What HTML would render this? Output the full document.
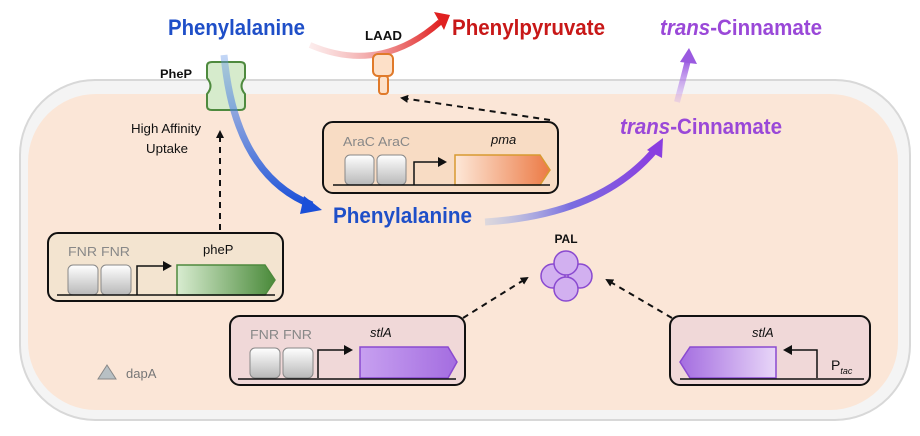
<!DOCTYPE html>
<html><head><meta charset="utf-8"><style>
html,body{margin:0;padding:0;background:#fff;}
svg{display:block;font-family:"Liberation Sans",sans-serif;}
</style></head><body>
<svg width="920" height="436" viewBox="0 0 920 436" xmlns="http://www.w3.org/2000/svg">
<defs>
<linearGradient id="gb" x1="0" y1="0" x2="0" y2="1"><stop offset="0" stop-color="#fff"/><stop offset="1" stop-color="#b8b8b8"/></linearGradient>
<linearGradient id="gg" x1="0" x2="1"><stop offset="0" stop-color="#d8ecd0"/><stop offset="1" stop-color="#4a8a3a"/></linearGradient>
<linearGradient id="gp" x1="0" x2="1"><stop offset="0" stop-color="#c7a0f0"/><stop offset="1" stop-color="#a46de0"/></linearGradient>
<linearGradient id="gp2" x1="1" x2="0"><stop offset="0" stop-color="#e8d6f8"/><stop offset="1" stop-color="#a46de0"/></linearGradient>
<linearGradient id="go" x1="0" x2="1"><stop offset="0" stop-color="#fde8d8"/><stop offset="1" stop-color="#ec7a45"/></linearGradient>
<linearGradient id="gpur" x1="0" x2="1"><stop offset="0" stop-color="#9ab8e8" stop-opacity="0.3"/><stop offset="0.5" stop-color="#7a6ee0"/><stop offset="1" stop-color="#8a3ee0"/></linearGradient>
<linearGradient id="gblue" x1="0" y1="0" x2="0" y2="1"><stop offset="0" stop-color="#6a9ae8" stop-opacity="0.4"/><stop offset="1" stop-color="#1a4fd8"/></linearGradient>
<linearGradient id="gred" x1="0" x2="1"><stop offset="0" stop-color="#f0a0a0" stop-opacity="0.2"/><stop offset="1" stop-color="#e02020"/></linearGradient>
<linearGradient id="gpu2" x1="0" y1="1" x2="0" y2="0"><stop offset="0" stop-color="#c8a0f0" stop-opacity="0.3"/><stop offset="1" stop-color="#9a5ae0"/></linearGradient>
<marker id="ad" markerWidth="8" markerHeight="8" refX="6" refY="4" orient="auto" markerUnits="userSpaceOnUse"><path d="M0,0 L8,4 L0,8 z" fill="#111"/></marker>
</defs>
<rect x="20" y="80" width="890" height="340" rx="75" fill="#f4f4f4" stroke="#d8d8d8" stroke-width="2"/>
<rect x="28" y="94" width="870" height="316" rx="68" fill="#fbe6d7"/>

<text x="168" y="35" font-size="22" font-weight="bold" fill="#1f4fc8" textLength="137" lengthAdjust="spacingAndGlyphs">Phenylalanine</text>
<text x="365" y="40" font-size="13" font-weight="bold" fill="#111" textLength="37" lengthAdjust="spacingAndGlyphs">LAAD</text>
<text x="452" y="35" font-size="22" font-weight="bold" fill="#c81818" textLength="153" lengthAdjust="spacingAndGlyphs">Phenylpyruvate</text>
<text x="660" y="35" font-size="22" font-weight="bold" fill="#9a48d8" textLength="162" lengthAdjust="spacingAndGlyphs"><tspan font-style="italic">trans</tspan>-Cinnamate</text>
<text x="160" y="78" font-size="12" font-weight="bold" fill="#111" textLength="32" lengthAdjust="spacingAndGlyphs">PheP</text>

<path d="M310,45 Q380,75 440,22" fill="none" stroke="url(#gred)" stroke-width="6"/>
<path d="M434,12 L450,15 L444,30 z" fill="#e02020"/>

<path d="M677,102 Q683,80 688,60" fill="none" stroke="url(#gpu2)" stroke-width="6"/>
<path d="M680,62 L689,48 L697,64 z" fill="#9a5ae0"/>

<path d="M207,66 Q207,62 212,62 L240,62 Q245,62 245,66 L245,78 Q238,86 245,94 L245,106 Q245,110 240,110 L212,110 Q207,110 207,106 L207,94 Q214,86 207,78 z" fill="#d6ebcc" stroke="#4e8a3e" stroke-width="2"/>
<path d="M224,55 Q235,175 312,205" fill="none" stroke="url(#gblue)" stroke-width="7"/>
<path d="M304,196 L322,210 L300,214 z" fill="#1a4fd8"/>

<rect x="373" y="54" width="20" height="22" rx="5" fill="#fde0c8" stroke="#e07a2a" stroke-width="2"/>
<rect x="379" y="76" width="9" height="18" rx="3" fill="#fde0c8" stroke="#e07a2a" stroke-width="2"/>

<text x="131" y="133" font-size="13" fill="#111" textLength="70" lengthAdjust="spacingAndGlyphs">High Affinity</text>
<text x="146" y="153" font-size="13" fill="#111" textLength="42" lengthAdjust="spacingAndGlyphs">Uptake</text>
<line x1="220" y1="230" x2="220" y2="132" stroke="#111" stroke-width="2" stroke-dasharray="6,5" marker-end="url(#ad)"/>
<line x1="550" y1="120" x2="402" y2="98" stroke="#111" stroke-width="2" stroke-dasharray="6,5" marker-end="url(#ad)"/>

<text x="333" y="223" font-size="22" font-weight="bold" fill="#1f4fc8" textLength="139" lengthAdjust="spacingAndGlyphs">Phenylalanine</text>
<text x="620" y="134" font-size="22" font-weight="bold" fill="#9a48d8" textLength="162" lengthAdjust="spacingAndGlyphs"><tspan font-style="italic">trans</tspan>-Cinnamate</text>
<path d="M485,222 Q600,215 655,150" fill="none" stroke="url(#gpur)" stroke-width="7"/>
<path d="M647,150 L663,138 L662,158 z" fill="#8a3ee0"/>

<rect x="323" y="122" width="235" height="71" rx="10" fill="#f8dcc4" stroke="#111" stroke-width="2"/>
<text x="343" y="146" font-size="13" fill="#888" textLength="67" lengthAdjust="spacingAndGlyphs">AraC AraC</text>
<text x="491" y="144" font-size="13" font-style="italic" fill="#111">pma</text>
<rect x="345" y="155" width="29" height="30" rx="5" fill="url(#gb)" stroke="#888"/>
<rect x="377" y="155" width="29" height="30" rx="5" fill="url(#gb)" stroke="#888"/>
<path d="M414,185 L414,162 L440,162" fill="none" stroke="#111" stroke-width="1.5"/>
<path d="M438,157 L447,162 L438,167 z" fill="#111"/>
<path d="M455,155 L540,155 L550,170 L540,185 L455,185 z" fill="url(#go)" stroke="#d89a30" stroke-width="1.5"/>
<line x1="333" y1="185" x2="550" y2="185" stroke="#111" stroke-width="1.5"/>

<rect x="48" y="233" width="235" height="68" rx="10" fill="#f3e4d0" stroke="#111" stroke-width="2"/>
<text x="68" y="256" font-size="13" fill="#888" textLength="62" lengthAdjust="spacingAndGlyphs">FNR FNR</text>
<text x="203" y="254" font-size="13" fill="#111">pheP</text>
<rect x="68" y="265" width="30" height="30" rx="5" fill="url(#gb)" stroke="#888"/>
<rect x="101" y="265" width="30" height="30" rx="5" fill="url(#gb)" stroke="#888"/>
<path d="M137,295 L137,266 L165,266" fill="none" stroke="#111" stroke-width="1.5"/>
<path d="M163,261 L172,266 L163,271 z" fill="#111"/>
<path d="M177,265 L265,265 L275,280 L265,295 L177,295 z" fill="url(#gg)" stroke="#4e8a3e" stroke-width="1.5"/>
<line x1="57" y1="295" x2="275" y2="295" stroke="#111" stroke-width="1.5"/>

<rect x="230" y="316" width="235" height="69" rx="10" fill="#f0d8d8" stroke="#111" stroke-width="2"/>
<text x="250" y="339" font-size="13" fill="#888" textLength="62" lengthAdjust="spacingAndGlyphs">FNR FNR</text>
<text x="370" y="337" font-size="13" font-style="italic" fill="#111">stlA</text>
<rect x="250" y="348" width="30" height="30" rx="5" fill="url(#gb)" stroke="#888"/>
<rect x="283" y="348" width="30" height="30" rx="5" fill="url(#gb)" stroke="#888"/>
<path d="M318,378 L318,350 L346,350" fill="none" stroke="#111" stroke-width="1.5"/>
<path d="M344,345 L353,350 L344,355 z" fill="#111"/>
<path d="M360,347 L448,347 L457,362 L448,378 L360,378 z" fill="url(#gp)" stroke="#8a4ad0" stroke-width="1.5"/>
<line x1="238" y1="379" x2="456" y2="379" stroke="#111" stroke-width="1.5"/>

<rect x="670" y="316" width="200" height="69" rx="10" fill="#f0d8d8" stroke="#111" stroke-width="2"/>
<text x="752" y="337" font-size="13" font-style="italic" fill="#111">stlA</text>
<path d="M690,347 L776,347 L776,378 L690,378 L680,362 z" fill="url(#gp2)" stroke="#8a4ad0" stroke-width="1.5"/>
<path d="M817,378 L817,350 L790,350" fill="none" stroke="#111" stroke-width="1.5"/>
<path d="M792,345 L783,350 L792,355 z" fill="#111"/>
<text x="831" y="370" font-size="14" fill="#111">P<tspan font-size="9" font-style="italic" dy="4">tac</tspan></text>
<line x1="680" y1="379" x2="864" y2="379" stroke="#111" stroke-width="1.5"/>

<text x="566" y="243" font-size="12" font-weight="bold" fill="#111" text-anchor="middle">PAL</text>
<g fill="#d2b0f0" stroke="#8a4ad0" stroke-width="1.5">
<circle cx="553" cy="276" r="12"/><circle cx="580" cy="276" r="12"/>
<circle cx="566" cy="263" r="12"/><circle cx="566" cy="289" r="12"/>
</g>
<line x1="463" y1="318" x2="527" y2="278" stroke="#111" stroke-width="2" stroke-dasharray="6,5" marker-end="url(#ad)"/>
<line x1="672" y1="318" x2="607" y2="280" stroke="#111" stroke-width="2" stroke-dasharray="6,5" marker-end="url(#ad)"/>

<path d="M98,379 L107,365 L116,379 z" fill="#b8c0c4" stroke="#888"/>
<text x="126" y="378" font-size="13" fill="#777">dapA</text>
</svg>
</body></html>
